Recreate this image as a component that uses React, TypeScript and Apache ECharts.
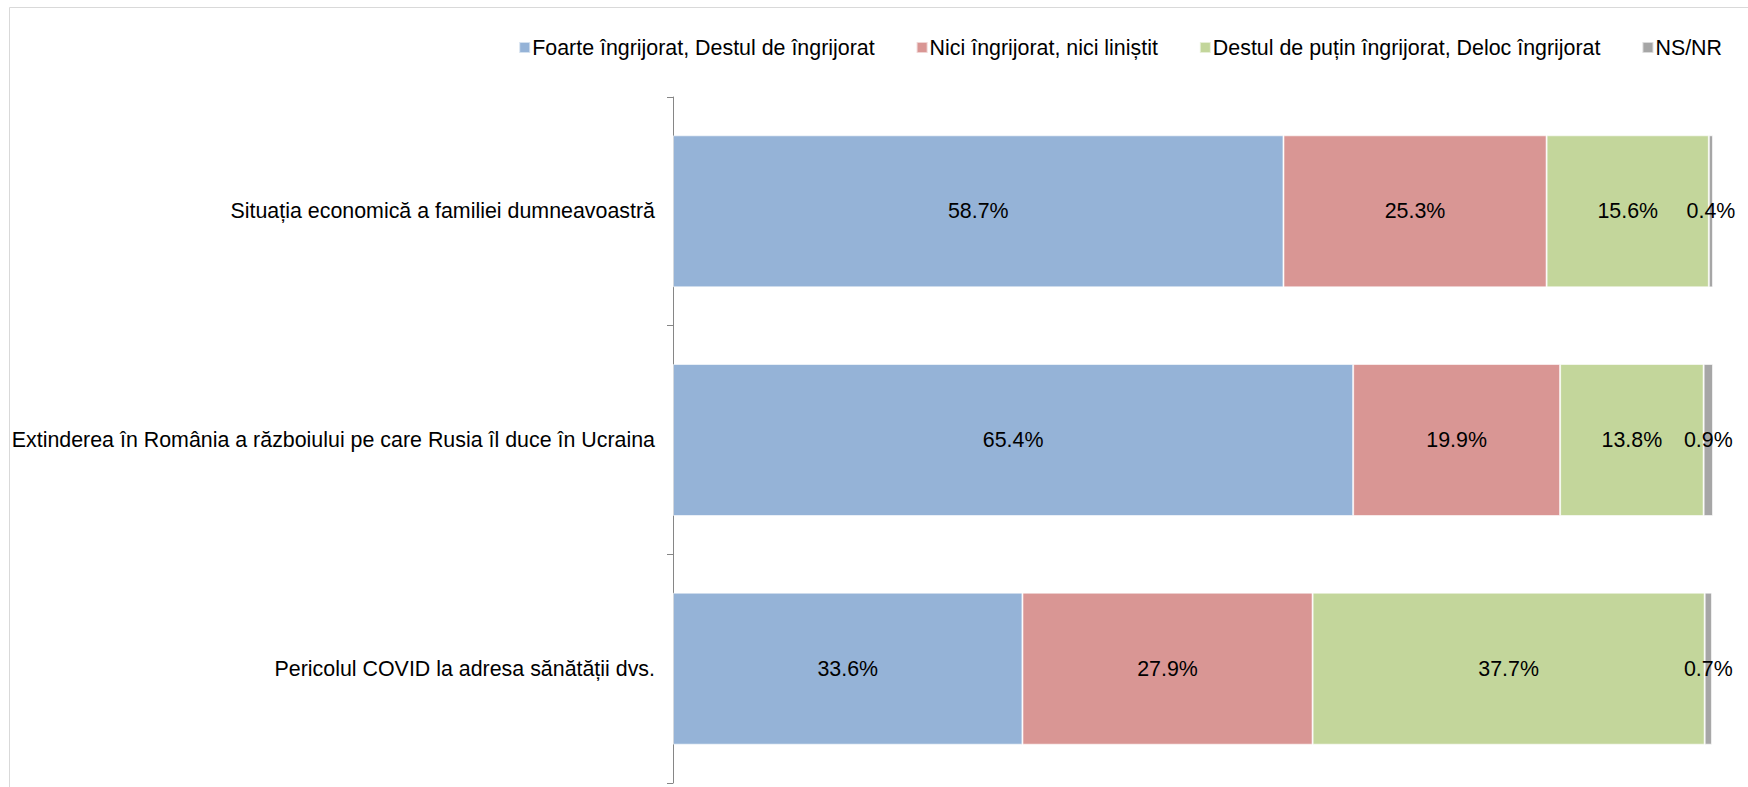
import React, { useEffect, useRef } from "react";
import * as echarts from "echarts";

const categories: string[] = [
  "Situația economică a familiei dumneavoastră",
  "Extinderea în România a războiului pe care Rusia îl duce în Ucraina",
  "Pericolul COVID la adresa sănătății dvs.",
];
const seriesNames: string[] = [
  "Foarte îngrijorat, Destul de îngrijorat",
  "Nici îngrijorat, nici liniștit",
  "Destul de puțin îngrijorat, Deloc îngrijorat",
  "NS/NR",
];
const worried: number[] = [58.7, 65.4, 33.6];
const neutral: number[] = [25.3, 19.9, 27.9];
const notWorried: number[] = [15.6, 13.8, 37.7];
const nsnr: number[] = [0.4, 0.9, 0.7];
const colors: string[] = ["#95B3D7", "#D99694", "#C3D69B", "#A6A6A6"];

const FONT = "'Liberation Sans', Arial, sans-serif";

export default function App() {
  const ref = useRef<HTMLDivElement>(null);
  useEffect(() => {
    if (!ref.current) return;
    const chart = echarts.init(ref.current, undefined, { renderer: "svg" });
    const dataSets = [worried, neutral, notWorried, nsnr];
    chart.setOption({
      animation: false,
      textStyle: { fontFamily: FONT },
      graphic: [
        {
          type: "rect",
          shape: { x: 9.5, y: 7.5, width: 1800, height: 900 },
          style: { fill: "none", stroke: "#d9d9d9", lineWidth: 1 },
          silent: true,
        },
      ],
      legend: {
        right: 21,
        top: 32,
        itemWidth: 11,
        itemHeight: 11,
        itemGap: 41,
        icon: "rect",
        textStyle: { fontFamily: FONT, fontSize: 21.4, color: "#000", padding: [0, 0, 0, -3] },
        data: seriesNames,
      },
      grid: { left: 673, right: 35, top: 97, bottom: 4, containLabel: false },
      xAxis: {
        type: "value",
        min: 0,
        max: 100,
        show: false,
      },
      yAxis: {
        type: "category",
        data: categories,
        inverse: true,
        axisLine: { show: true, lineStyle: { color: "#868686", width: 1 } },
        axisTick: { show: true, length: 6, lineStyle: { color: "#868686" } },
        axisLabel: { fontFamily: FONT, fontSize: 21.4, color: "#000", margin: 18 },
      },
      series: seriesNames.map((name, i) => ({
        name,
        type: "bar",
        stack: "total",
        barCategoryGap: "33.5%",
        data: dataSets[i],
        itemStyle: { color: colors[i], borderColor: "rgba(255,255,255,0.6)", borderWidth: 1 },
        label: {
          show: true,
          position: "inside",
          color: "#000",
          fontFamily: FONT,
          fontSize: 21.4,
          formatter: (p: any) => Number(p.value).toFixed(1) + "%",
        },
      })),
    });
    return () => chart.dispose();
  }, []);
  return (
    <div
      ref={ref}
      style={{ position: "absolute", left: 0, top: 0, width: 1748, height: 787, background: "#fff" }}
    />
  );
}
